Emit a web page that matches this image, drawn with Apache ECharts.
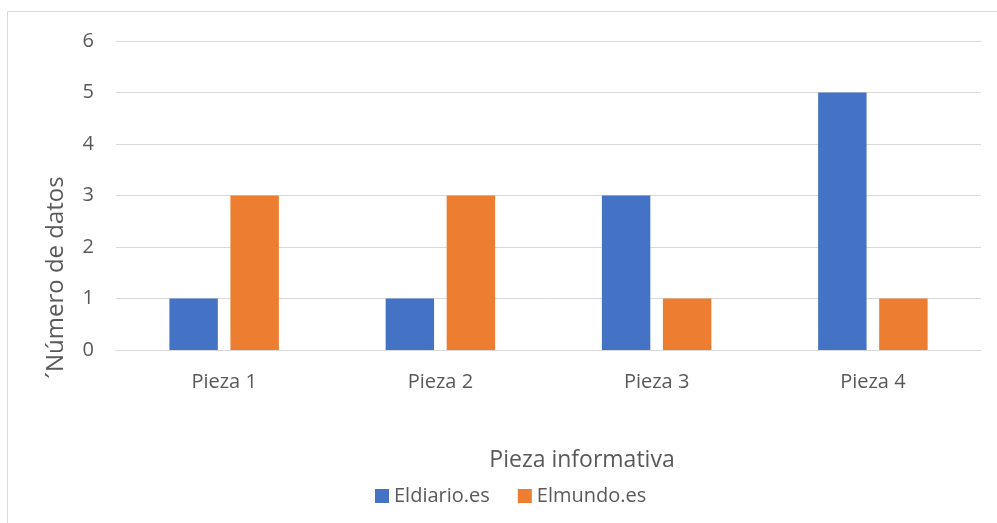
<!DOCTYPE html>
<html><head><meta charset="utf-8">
<script src="https://cdn.jsdelivr.net/npm/echarts@6/dist/echarts.min.js"></script>
<style>html,body{margin:0;padding:0;background:#fff}#c{width:997px;height:523px}</style>
</head><body><div id="c"></div>
<script>
const categories = ['Pieza 1', 'Pieza 2', 'Pieza 3', 'Pieza 4'];
const eldiario = [1, 1, 3, 5];
const elmundo = [3, 3, 1, 1];
const yTicks = [0, 1, 2, 3, 4, 5, 6];
const font = '"Open Sans", "Noto Sans", sans-serif';
const chart = echarts.init(document.getElementById('c'), null, {renderer: 'canvas'});
chart.setOption({
  animation: false,
  textStyle: {fontFamily: font, color: '#595959'},
  graphic: [{type: 'rect', shape: {x: 7.5, y: 11.5, width: 1000, height: 530}, style: {fill: 'none', stroke: '#d9d9d9', lineWidth: 1}, silent: true}],
  grid: {left: 116, right: 16, top: 41, bottom: 173, containLabel: false},
  legend: {
    left: 370, top: 481, itemWidth: 14, itemHeight: 14, itemGap: 28,
    icon: 'rect',
    textStyle: {fontFamily: font, fontSize: 20, color: '#595959', padding: [0, 0, 0, 0]},
    data: ['Eldiario.es', 'Elmundo.es']
  },
  xAxis: {
    type: 'category', data: categories,
    name: 'Pieza informativa', nameLocation: 'middle', nameGap: 99,
    nameTextStyle: {fontFamily: font, fontSize: 23, color: '#595959', padding: [0, 0, 0, 67]},
    axisLine: {lineStyle: {color: '#d9d9d9', width: 1}},
    axisTick: {show: false},
    axisLabel: {fontFamily: font, fontSize: 20, color: '#595959', margin: 22}
  },
  yAxis: {
    type: 'value', min: 0, max: 6, interval: 1,
    name: '´Número de datos', nameLocation: 'middle', nameGap: 48,
    nameTextStyle: {fontFamily: font, fontSize: 24, color: '#595959', padding: [0, 164, 0, 0]},
    axisLine: {show: false}, axisTick: {show: false},
    axisLabel: {fontFamily: font, fontSize: 20, color: '#595959', margin: 22,
      formatter: v => yTicks.includes(v) ? String(v) : ''},
    splitLine: {lineStyle: {color: '#d9d9d9', width: 1}}
  },
  series: [
    {name: 'Eldiario.es', type: 'bar', data: eldiario, barWidth: '22.4%', barGap: '26%', itemStyle: {color: '#4472C4'}},
    {name: 'Elmundo.es', type: 'bar', data: elmundo, barWidth: '22.4%', barGap: '26%', itemStyle: {color: '#ED7D31'}}
  ]
});
</script></body></html>
